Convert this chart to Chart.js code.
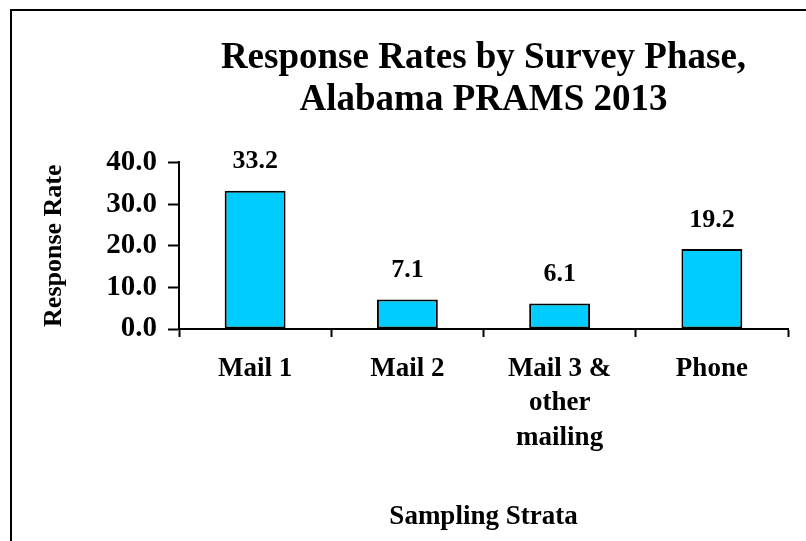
<!DOCTYPE html>
<html lang="en">
<head>
  <meta charset="UTF-8">
  <title>Response Rates by Survey Phase</title>
  <script src="https://cdn.jsdelivr.net/npm/chart.js"></script>
  <style>
    body {
      margin: 0;
      background: #fff;
    }
    #wrap {
      position: relative;
      width: 806px;
      height: 541px;
    }
    #frame {
      position: absolute;
      left: 10px;
      top: 9px;
      right: 0;
      bottom: 0;
      border-left: 2px solid #000;
      border-top: 2px solid #000;
      pointer-events: none;
    }
  </style>
</head>
<body>

  <div id="wrap">
    <canvas id="barChart" width="806" height="541"></canvas>
    <div id="frame"></div>
  </div>

  <script>
    const categories = ['Mail 1', 'Mail 2', ['Mail 3 &', 'other', 'mailing'], 'Phone'];
    const rates = [33.2, 7.1, 6.1, 19.2];
    const yTicks = [0, 10, 20, 30, 40];

    const serif = '"Liberation Serif", "Times New Roman", serif';

    // value labels above each bar
    const barLabels = {
      id: 'barLabels',
      afterDatasetsDraw(chart) {
        const ctx = chart.ctx;
        const meta = chart.getDatasetMeta(0);
        ctx.save();
        ctx.font = 'bold 26px ' + serif;
        ctx.fillStyle = '#000';
        ctx.textAlign = 'center';
        ctx.textBaseline = 'middle';
        meta.data.forEach((bar, i) => {
          ctx.fillText(rates[i].toFixed(1), bar.x, bar.y - 29);
        });
        ctx.restore();
      }
    };

    new Chart(document.getElementById('barChart'), {
      type: 'bar',
      data: {
        labels: categories,
        datasets: [{
          data: rates,
          backgroundColor: '#00CCFF',
          borderColor: '#000',
          borderWidth: 2,
          borderSkipped: false,
          barPercentage: 0.4,
          categoryPercentage: 1
        }]
      },
      options: {
        responsive: false,
        animation: false,
        layout: { padding: { left: 20, right: 18, top: 0, bottom: 0 } },
        plugins: {
          legend: { display: false },
          tooltip: { enabled: false },
          title: {
            display: true,
            fullSize: false,
            text: ['Response Rates by Survey Phase,', 'Alabama PRAMS 2013'],
            color: '#000',
            font: { family: serif, size: 37, weight: 'bold', lineHeight: 1.14 },
            padding: { top: 37, bottom: 41 }
          }
        },
        scales: {
          x: {
            afterFit(scale) { scale.height = 212; },
            grid: {
              display: true,
              drawOnChartArea: false,
              drawTicks: true,
              tickLength: 8,
              tickColor: '#000',
              tickWidth: 2
            },
            border: { color: '#000', width: 2 },
            ticks: {
              color: '#000',
              padding: 15,
              maxRotation: 0,
              font: { family: serif, size: 27, weight: 'bold', lineHeight: 1.27 }
            },
            title: {
              display: true,
              text: 'Sampling Strata',
              color: '#000',
              font: { family: serif, size: 27, weight: 'bold' },
              padding: { top: 4, bottom: 8 }
            }
          },
          y: {
            min: 0,
            max: 40,
            afterFit(scale) { scale.width = 159; },
            afterBuildTicks(scale) { scale.ticks = yTicks.map(v => ({ value: v })); },
            grid: {
              display: true,
              drawOnChartArea: false,
              drawTicks: true,
              tickLength: 11,
              tickColor: '#000',
              tickWidth: 2
            },
            border: { color: '#000', width: 2 },
            ticks: {
              color: '#000',
              padding: 11,
              font: { family: serif, size: 29, weight: 'bold' },
              callback: v => v.toFixed(1)
            },
            title: {
              display: true,
              text: 'Response Rate',
              color: '#000',
              font: { family: serif, size: 26, weight: 'bold' },
              padding: { top: 19, bottom: 4 }
            }
          }
        }
      },
      plugins: [barLabels]
    });
  </script>

</body>
</html>
